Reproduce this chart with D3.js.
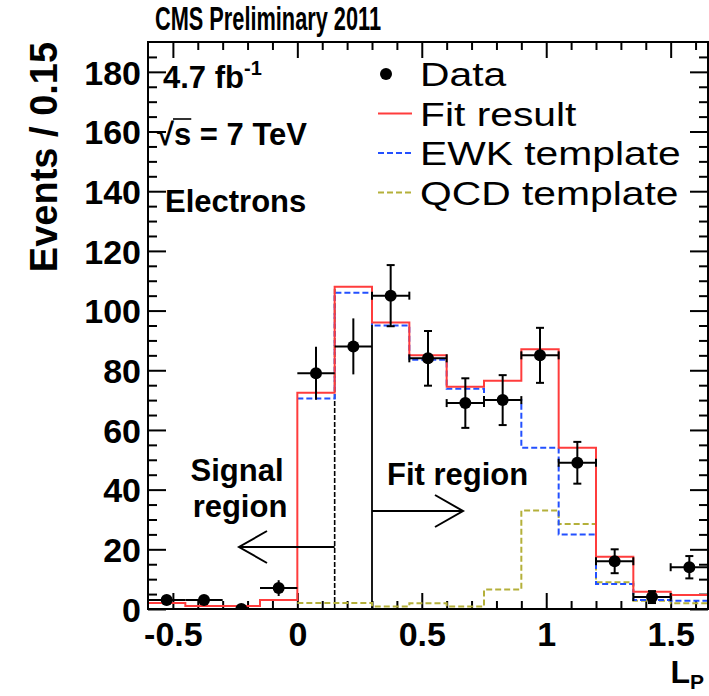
<!DOCTYPE html>
<html>
<head>
<meta charset="utf-8">
<script src="https://cdn.jsdelivr.net/npm/d3@7"></script>
<style>
  body { margin: 0; background: #fff; }
  svg { display: block; }
  text { font-family: "Liberation Sans", Arial, Helvetica, sans-serif; fill: #000; }
</style>
</head>
<body>
<svg id="chart" width="709" height="696"></svg>
<script>
// L_P distribution, electron channel: data, template fit and its two components
const binCenters   = [-0.525, -0.375, -0.225, -0.075, 0.075, 0.225, 0.375, 0.525, 0.675, 0.825, 0.975, 1.125, 1.275, 1.425, 1.575];
const dataCounts   = [3, 3, 0, 7, 79, 88, 105, 84, 69, 70, 85, 49, 16, 4, 14];
const fitResult    = [2, 1, 1, 3, 72.5, 108, 96, 85, 74.5, 76.5, 87, 54, 17.5, 5.8, 4.7];
const ewkTemplate  = [null, null, null, null, 70.5, 106, 95, 83.5, 73.8, 70, 54, 25, 8.4, 3, 2.8];
const qcdTemplate  = [null, null, null, null, 2, 2, 0.8, 1.9, 0.8, 6.5, 33, 28.5, 9, 2.8, 1.9];
const binHalfWidth = 0.075;

const xTickValues = [-0.5, 0, 0.5, 1, 1.5];
const xTickLabels = ["-0.5", "0", "0.5", "1", "1.5"];
const yTickValues = [0, 20, 40, 60, 80, 100, 120, 140, 160, 180];
const yTickLabels = ["0", "20", "40", "60", "80", "100", "120", "140", "160", "180"];

const signalEdge = 0.15;   // upper edge of the signal region
const fitEdge    = 0.3;    // lower edge of the fit region

const legendItems = ["Data", "Fit result", "EWK template", "QCD template"];

const colFit = "#ff3c3c", colEwk = "#2350ff", colQcd = "#b4b03a";

const svg = d3.select("#chart");
const x = d3.scaleLinear().domain([-0.6, 1.65]).range([148, 708]);
const y = d3.scaleLinear().domain([0, 190]).range([609, 42]);

svg.append("clipPath").attr("id", "plotClip")
  .append("rect").attr("x", x(-0.6)).attr("y", y(190))
  .attr("width", x(1.65) - x(-0.6)).attr("height", y(0) - y(190));

// ---- axes with ROOT-style inward ticks on all four sides ----
const xMinor = d3.range(-5, 17).map(k => k / 10).filter(v => Math.abs(v * 2 - Math.round(v * 2)) > 1e-6);
const yMinor = d3.range(1, 38).map(k => k * 5).filter(v => v % 20 !== 0);

function styleAxis(g) {
  g.select(".domain").remove();
  g.selectAll("line").attr("stroke", "#000").attr("stroke-width", 2);
}

const gx = svg.append("g").attr("transform", `translate(0,${y(0)})`)
  .call(d3.axisBottom(x).tickValues(xTickValues).tickSize(-16).tickFormat((d, i) => xTickLabels[i]))
  .call(styleAxis);
gx.selectAll("text").attr("y", 37).attr("dy", 0)
  .style("font-size", "34px").style("font-weight", "bold")
  .style("font-family", "'Liberation Sans', Arial, sans-serif").attr("fill", "#000");
svg.append("g").attr("transform", `translate(0,${y(0)})`)
  .call(d3.axisBottom(x).tickValues(xMinor).tickSize(-8).tickFormat(""))
  .call(styleAxis);
svg.append("g").attr("transform", `translate(0,${y(190)})`)
  .call(d3.axisTop(x).tickValues(xTickValues).tickSize(-16).tickFormat(""))
  .call(styleAxis);
svg.append("g").attr("transform", `translate(0,${y(190)})`)
  .call(d3.axisTop(x).tickValues(xMinor).tickSize(-8).tickFormat(""))
  .call(styleAxis);

const gy = svg.append("g").attr("transform", `translate(${x(-0.6)},0)`)
  .call(d3.axisLeft(y).tickValues(yTickValues).tickSize(-18).tickFormat((d, i) => yTickLabels[i]))
  .call(styleAxis);
gy.selectAll("text").attr("x", -7).attr("dy", "0.36em")
  .style("font-size", "34px").style("font-weight", "bold")
  .style("font-family", "'Liberation Sans', Arial, sans-serif").attr("fill", "#000");
svg.append("g").attr("transform", `translate(${x(-0.6)},0)`)
  .call(d3.axisLeft(y).tickValues(yMinor).tickSize(-9).tickFormat(""))
  .call(styleAxis);
svg.append("g").attr("transform", `translate(${x(1.65)},0)`)
  .call(d3.axisRight(y).tickValues(yTickValues).tickSize(-18).tickFormat(""))
  .call(styleAxis);
svg.append("g").attr("transform", `translate(${x(1.65)},0)`)
  .call(d3.axisRight(y).tickValues(yMinor).tickSize(-9).tickFormat(""))
  .call(styleAxis);

// ---- region boundaries ----
svg.append("line")
  .attr("x1", x(signalEdge)).attr("x2", x(signalEdge))
  .attr("y1", y(0)).attr("y2", y(fitResult[5]))
  .attr("stroke", "#000").attr("stroke-width", 1.6).attr("stroke-dasharray", "5,2");
svg.append("line")
  .attr("x1", x(fitEdge)).attr("x2", x(fitEdge))
  .attr("y1", y(0)).attr("y2", y(fitResult[6]))
  .attr("stroke", "#000").attr("stroke-width", 1.8);

// ---- histogram outlines ----
function stepPoints(values) {
  const pts = [];
  values.forEach((v, i) => {
    if (v === null) return;
    pts.push([binCenters[i] - binHalfWidth, v]);
    pts.push([binCenters[i] + binHalfWidth, v]);
  });
  return pts;
}
const line = d3.line().x(d => x(d[0])).y(d => y(d[1]));
const plot = svg.append("g").attr("clip-path", "url(#plotClip)");
plot.append("path").attr("d", line(stepPoints(qcdTemplate)))
  .attr("fill", "none").attr("stroke", colQcd).attr("stroke-width", 2).attr("stroke-dasharray", "6,3");
plot.append("path").attr("d", line(stepPoints(ewkTemplate)))
  .attr("fill", "none").attr("stroke", colEwk).attr("stroke-width", 2).attr("stroke-dasharray", "6,3");
plot.append("path").attr("d", line(stepPoints(fitResult)))
  .attr("fill", "none").attr("stroke", colFit).attr("stroke-width", 2);

// ---- data points with statistical errors ----
const capLen = 4;
const pts = plot.append("g").attr("stroke", "#000").attr("stroke-width", 2);
binCenters.forEach((c, i) => {
  const n = dataCounts[i], err = Math.sqrt(n);
  const caps = i >= 6;
  const cx = x(c), cy = y(n);
  const xl = x(c - binHalfWidth), xr = x(c + binHalfWidth);
  pts.append("line").attr("x1", xl).attr("x2", xr).attr("y1", cy).attr("y2", cy);
  if (err > 0) {
    const yt = y(n + err), yb = y(n - err);
    pts.append("line").attr("x1", cx).attr("x2", cx).attr("y1", yt).attr("y2", yb);
    if (caps) {
      pts.append("line").attr("x1", cx - capLen).attr("x2", cx + capLen).attr("y1", yt).attr("y2", yt);
      pts.append("line").attr("x1", cx - capLen).attr("x2", cx + capLen).attr("y1", yb).attr("y2", yb);
    }
  }
  if (caps) {
    pts.append("line").attr("x1", xl).attr("x2", xl).attr("y1", cy - capLen).attr("y2", cy + capLen);
    pts.append("line").attr("x1", xr).attr("x2", xr).attr("y1", cy - capLen).attr("y2", cy + capLen);
  }
});
plot.append("g").selectAll("circle").data(binCenters).join("circle")
  .attr("cx", d => x(d)).attr("cy", (d, i) => y(dataCounts[i])).attr("r", 6).attr("fill", "#000");

// ---- frame ----
svg.append("rect").attr("x", x(-0.6)).attr("y", y(190))
  .attr("width", x(1.65) - x(-0.6)).attr("height", y(0) - y(190))
  .attr("fill", "none").attr("stroke", "#000").attr("stroke-width", 2);

// ---- region arrows and labels ----
function arrow(x0, x1, yy) {
  const g = svg.append("g").attr("stroke", "#000").attr("stroke-width", 2).attr("fill", "none");
  const dir = Math.sign(x1 - x0);
  g.append("line").attr("x1", x0).attr("x2", x1).attr("y1", yy).attr("y2", yy);
  g.append("path").attr("d", `M${x1 - dir * 28},${yy - 16}L${x1},${yy}L${x1 - dir * 28},${yy + 16}`);
}
arrow(x(signalEdge), 239, 547);
arrow(x(fitEdge), 463, 511);

const bold = s => s.style("font-weight", "bold");
bold(svg.append("text").attr("x", 237).attr("y", 481).attr("text-anchor", "middle").style("font-size", "31px").text("Signal"));
bold(svg.append("text").attr("x", 240).attr("y", 517).attr("text-anchor", "middle").style("font-size", "31px").text("region"));
bold(svg.append("text").attr("x", 387).attr("y", 485).style("font-size", "31px").text("Fit region"));

// ---- run information ----
const lumi = bold(svg.append("text").attr("x", 163).attr("y", 88).style("font-size", "31px"));
lumi.append("tspan").text("4.7 fb");
lumi.append("tspan").attr("dy", -13).style("font-size", "20px").text("-1");

const sqrtS = bold(svg.append("text").attr("x", 157).attr("y", 145).style("font-size", "31px").text("\u221As = 7 TeV"));
{
  const node = sqrtS.node();
  const rootExt = node.getExtentOfChar(0);
  const sEnd = node.getEndPositionOfChar(1);
  svg.append("line")
    .attr("x1", rootExt.x + rootExt.width - 1).attr("x2", sEnd.x)
    .attr("y1", rootExt.y + 2).attr("y2", rootExt.y + 2)
    .attr("stroke", "#000").attr("stroke-width", 1.6);
}
bold(svg.append("text").attr("x", 165).attr("y", 212).style("font-size", "31px").text("Electrons"));

// ---- legend (wide Helvetica look: glyphs stretched horizontally) ----
const lgX = 378, lgText = 420, lgRow0 = 74, lgStep = 39.5;
legendItems.forEach((name, i) => {
  const yy = lgRow0 + i * lgStep;
  if (i === 0) {
    svg.append("circle").attr("cx", lgX + 8).attr("cy", yy).attr("r", 6).attr("fill", "#000");
  } else {
    const col = [null, colFit, colEwk, colQcd][i];
    svg.append("line").attr("x1", lgX).attr("x2", lgX + 34).attr("y1", yy).attr("y2", yy)
      .attr("stroke", col).attr("stroke-width", 2)
      .attr("stroke-dasharray", i === 1 ? null : "6,3");
  }
  svg.append("text").attr("transform", `translate(${lgText},${yy + 12}) scale(1.2,1)`)
    .style("font-size", "34px").text(name);
});

// ---- titles ----
bold(svg.append("text").attr("x", 155).attr("y", 30).style("font-size", "33px")
  .attr("textLength", 226).attr("lengthAdjust", "spacingAndGlyphs").text("CMS Preliminary 2011"));

bold(svg.append("text").attr("transform", "translate(57,157) rotate(-90)")
  .attr("text-anchor", "middle").style("font-size", "38px").text("Events / 0.15"));

const xl = bold(svg.append("text").attr("x", 704).attr("y", 683).attr("text-anchor", "end").style("font-size", "32px"));
xl.append("tspan").text("L");
xl.append("tspan").attr("dy", 6).style("font-size", "21px").text("P");
</script>
</body>
</html>
